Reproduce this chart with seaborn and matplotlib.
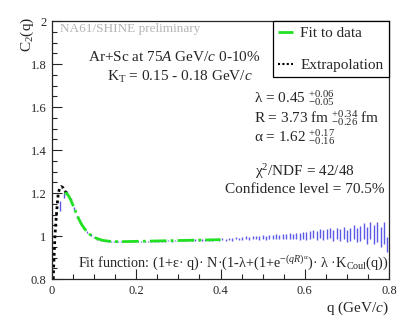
# NA61/SHINE correlation function C2(q) with Levy fit
import numpy as np
import seaborn as sns
import matplotlib.pyplot as plt
from matplotlib.lines import Line2D

# measured points (bin centres, values, errors)
q = [0.020, 0.028, 0.036, 0.044, 0.052, 0.060, 0.068, 0.076, 0.084, 0.092,
     0.100, 0.108, 0.116, 0.124, 0.132, 0.140, 0.148, 0.156, 0.164, 0.172,
     0.180, 0.188, 0.196, 0.204, 0.212, 0.220, 0.228, 0.236, 0.244, 0.252,
     0.260, 0.268, 0.276, 0.284, 0.292, 0.300, 0.308, 0.316, 0.324, 0.332,
     0.340, 0.348, 0.356, 0.364, 0.372, 0.380, 0.388, 0.396, 0.404, 0.412,
     0.420, 0.428, 0.436, 0.444, 0.452, 0.460, 0.468, 0.476, 0.484, 0.492,
     0.500, 0.508, 0.516, 0.524, 0.532, 0.540, 0.548, 0.556, 0.564, 0.572,
     0.580, 0.588, 0.596, 0.604, 0.612, 0.620, 0.628, 0.636, 0.644, 0.652,
     0.660, 0.668, 0.676, 0.684, 0.692, 0.700, 0.708, 0.716, 0.724, 0.732,
     0.740, 0.748, 0.756, 0.764, 0.772, 0.780, 0.788, 0.796]
c2 = [1.140, 1.190, 1.200, 1.172, 1.128, 1.088, 1.058, 1.035, 1.018, 1.004,
      0.993, 0.986, 0.981, 0.978, 0.976, 0.975, 0.974, 0.975, 0.974, 0.974,
      0.975, 0.974, 0.975, 0.975, 0.976, 0.975, 0.976, 0.976, 0.977, 0.976,
      0.977, 0.977, 0.978, 0.977, 0.978, 0.979, 0.978, 0.979, 0.980, 0.979,
      0.980, 0.981, 0.981, 0.982, 0.983, 0.982, 0.984, 0.983, 0.986, 0.983,
      0.988, 0.984, 0.990, 0.986, 0.989, 0.992, 0.988, 0.991, 0.993, 0.990,
      0.994, 0.992, 0.996, 0.994, 0.997, 0.995, 0.999, 0.996, 1.000, 0.997,
      1.001, 0.998, 1.003, 1.000, 1.005, 1.010, 1.002, 1.012, 1.004, 1.010,
      1.014, 1.002, 1.010, 1.006, 1.016, 1.000, 1.008, 1.020, 1.004, 1.012,
      1.022, 1.004, 1.026, 1.008, 1.018, 0.995, 1.014, 0.960]
c2_err = [0.025, 0.012, 0.008, 0.006, 0.005, 0.004, 0.003, 0.003, 0.003, 0.003,
          0.003, 0.003, 0.003, 0.003, 0.003, 0.003, 0.003, 0.003, 0.003, 0.003,
          0.003, 0.003, 0.003, 0.003, 0.003, 0.003, 0.003, 0.003, 0.003, 0.003,
          0.003, 0.003, 0.003, 0.003, 0.003, 0.003, 0.003, 0.003, 0.003, 0.003,
          0.004, 0.004, 0.004, 0.004, 0.004, 0.004, 0.004, 0.004, 0.004, 0.004,
          0.005, 0.005, 0.006, 0.006, 0.006, 0.007, 0.007, 0.007, 0.008, 0.008,
          0.009, 0.009, 0.010, 0.010, 0.011, 0.011, 0.012, 0.012, 0.013, 0.013,
          0.014, 0.015, 0.016, 0.017, 0.018, 0.019, 0.020, 0.021, 0.022, 0.023,
          0.024, 0.025, 0.026, 0.027, 0.028, 0.030, 0.031, 0.032, 0.034, 0.035,
          0.037, 0.039, 0.041, 0.043, 0.046, 0.048, 0.050, 0.034]

# fit curve (inside fit range)
fit_q = [0.030, 0.035, 0.040, 0.045, 0.050, 0.055, 0.060, 0.065, 0.070, 0.075,
         0.080, 0.085, 0.090, 0.095, 0.100, 0.110, 0.120, 0.130, 0.140, 0.150,
         0.170, 0.200, 0.250, 0.300, 0.350, 0.400]
fit_c = [1.200, 1.198, 1.185, 1.165, 1.142, 1.118, 1.095, 1.074, 1.055, 1.040,
         1.027, 1.016, 1.007, 1.000, 0.994, 0.986, 0.980, 0.977, 0.975, 0.974,
         0.974, 0.975, 0.977, 0.979, 0.981, 0.983]

# extrapolation towards q = 0
ext_q = [0.003, 0.004, 0.0055, 0.007, 0.009, 0.011, 0.013, 0.015, 0.018,
         0.022, 0.026, 0.030, 0.034]
ext_c = [0.800, 0.860, 0.930, 1.000, 1.060, 1.110, 1.160, 1.200, 1.220,
         1.230, 1.225, 1.210, 1.200]

sns.set_style('ticks')
plt.rcParams['font.family'] = ['Liberation Serif', 'DejaVu Serif']
plt.rcParams['mathtext.fontset'] = 'custom'
plt.rcParams['mathtext.rm'] = 'Liberation Serif'
plt.rcParams['mathtext.it'] = 'Liberation Serif:italic'
plt.rcParams['mathtext.bf'] = 'Liberation Serif:bold'

fig = plt.figure(figsize=(4.07, 3.29), dpi=100)
ax = fig.add_axes([52 / 407, 50 / 329, 337 / 407, 258 / 329])

blue = '#5a5ae6'
green = '#22e022'
fs = 11

ax.errorbar(q, c2, yerr=c2_err, fmt='none', ecolor=blue, elinewidth=1.0, capsize=0)
sns.lineplot(x=ext_q, y=ext_c, ax=ax, color='black', lw=2.0,
             linestyle=(0, (1, 1.1)), sort=False)
sns.lineplot(x=fit_q, y=fit_c, ax=ax, color=green, lw=2.0,
             linestyle=(0, (6, 1.5, 1, 1.5)), sort=False)

ax.set_xlim(0, 0.8)
ax.set_ylim(0.8, 2.0)
ax.set_xticks([0, 0.2, 0.4, 0.6, 0.8])
ax.set_xticklabels(['0', '0.2', '0.4', '0.6', '0.8'])
ax.set_yticks([0.8, 1.0, 1.2, 1.4, 1.6, 1.8, 2.0])
ax.set_yticklabels(['0.8', '1', '1.2', '1.4', '1.6', '1.8', '2'])
ax.set_xticks(np.arange(0, 0.81, 0.05), minor=True)
ax.set_yticks(np.arange(0.8, 2.01, 0.05), minor=True)
ax.tick_params(which='major', direction='in', length=7, width=0.8, labelsize=9, pad=4)
ax.tick_params(which='minor', direction='in', length=3.5, width=0.8)
for s in ax.spines.values():
    s.set_linewidth(0.9)

ax.set_xlabel('q (GeV/$c$)', loc='right', fontsize=fs, labelpad=2)
ax.set_ylabel('C$_2$(q)', loc='top', fontsize=fs)
ax.yaxis.set_label_coords(-0.047, 1.015)

# text annotations in axes fractions
ax.text(0.025, 0.97, 'NA61/SHINE preliminary', transform=ax.transAxes,
        fontsize=9.5, color='#b4b4b4', va='center')
ax.text(0.107, 0.860, 'Ar+Sc at 75$A$ GeV/$c$ 0-10%', transform=ax.transAxes,
        fontsize=fs, va='center')
ax.text(0.163, 0.783, 'K$_{\\rm T}$ = 0.15 - 0.18 GeV/$c$', transform=ax.transAxes,
        fontsize=fs, va='center')
ax.text(0.599, 0.702, 'λ = 0.45 $^{+0.06}_{-0.05}$', transform=ax.transAxes,
        fontsize=fs, va='center')
ax.text(0.599, 0.624, 'R = 3.73 fm $^{+0.34}_{-0.26}$ fm', transform=ax.transAxes,
        fontsize=fs, va='center')
ax.text(0.599, 0.550, 'α = 1.62 $^{+0.17}_{-0.16}$', transform=ax.transAxes,
        fontsize=fs, va='center')
ax.text(0.751, 0.415, 'χ$^2$/NDF = 42/48', transform=ax.transAxes,
        fontsize=fs, va='center', ha='center')
ax.text(0.751, 0.345, 'Confidence level = 70.5%', transform=ax.transAxes,
        fontsize=fs, va='center', ha='center')
ax.text(0.998, 0.062,
        'Fit function: (1+ε· q)· N·(1-λ+(1+e$^{-(qR)^{\\mathrm{\\alpha}}}$)· λ ·K$_{\\rm Coul}$(q))',
        transform=ax.transAxes, fontsize=10.3, va='center', ha='right')

handles = [Line2D([], [], color=green, lw=2.0, linestyle=(0, (6, 1.5, 1, 1.5))),
           Line2D([], [], color='black', lw=1.5, linestyle=(0, (1, 1.1)))]
leg = ax.legend(handles, ['Fit to data', 'Extrapolation'], loc='upper right',
                bbox_to_anchor=(1.0, 1.0), borderaxespad=0, fancybox=False,
                framealpha=1, edgecolor='black', fontsize=fs, handlelength=0.95,
                handletextpad=0.5, labelspacing=1.2, borderpad=0.35)
leg.get_frame().set_linewidth(0.9)

fig.savefig('out.png', dpi=100)
